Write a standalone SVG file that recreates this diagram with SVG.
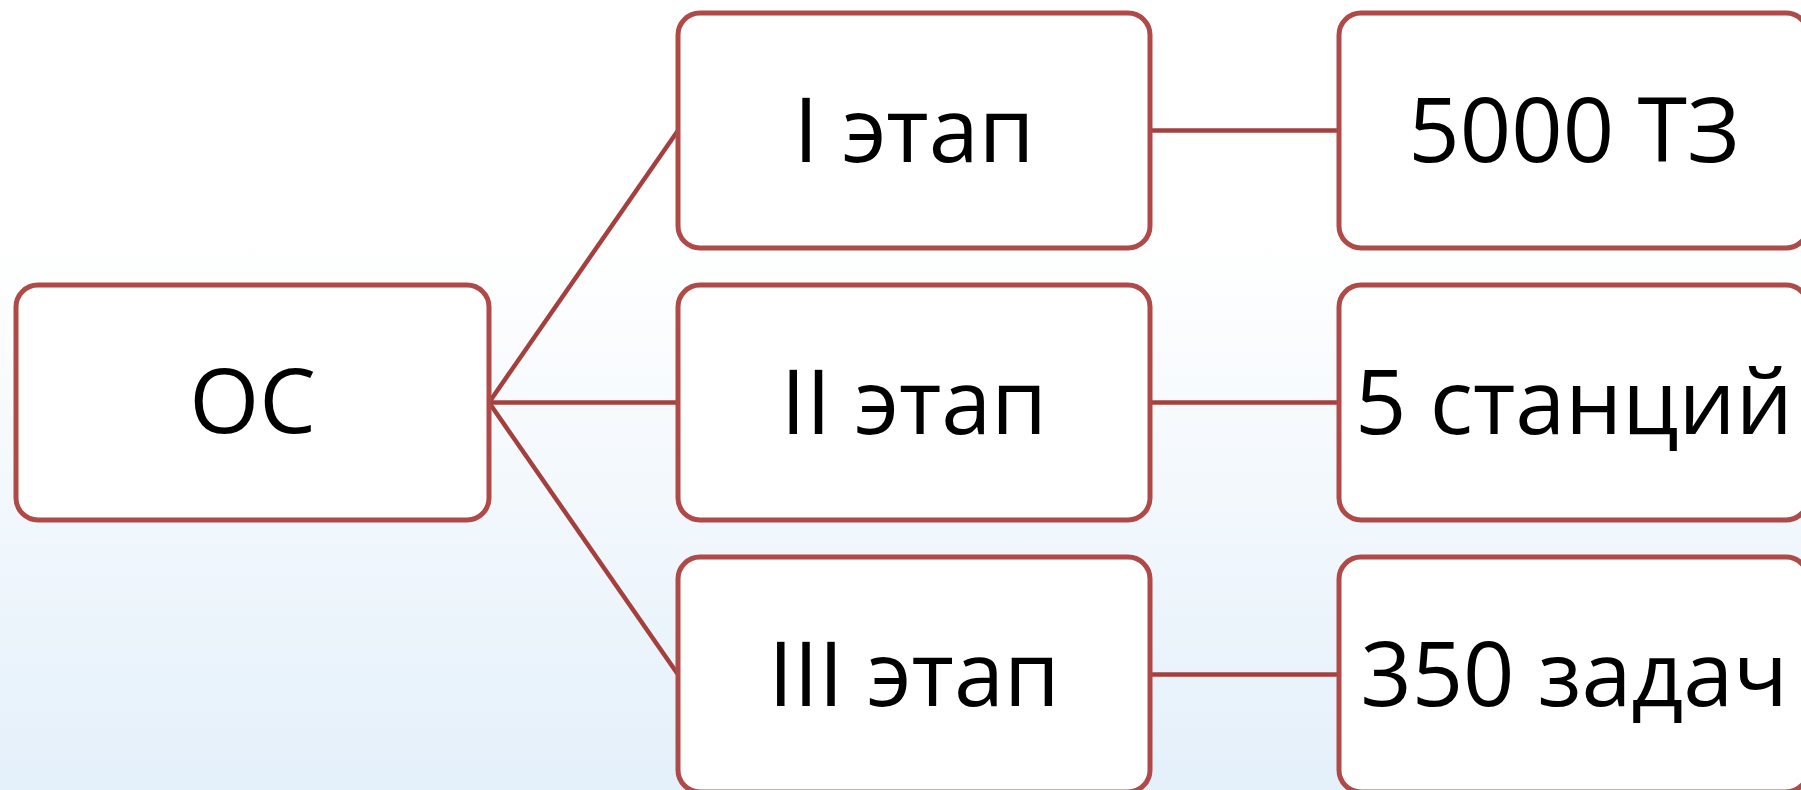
<svg xmlns="http://www.w3.org/2000/svg" width="1801" height="790" viewBox="0 0 1801 790">
<defs>
<linearGradient id="bg" x1="0" y1="0" x2="0" y2="1">
<stop offset="0" stop-color="#ffffff"/>
<stop offset="0.3" stop-color="#ffffff"/>
<stop offset="1" stop-color="#e4f0fa"/>
</linearGradient>
<style>
.box{fill:#ffffff;stroke:#b04a48;stroke-width:5}
.lbl{font-family:"Open Sans","Noto Sans",sans-serif;font-size:90px;fill:#000;text-anchor:middle}
.conn line{stroke:#a3403e;stroke-width:4.5}
</style>
</defs>
<rect x="0" y="0" width="1801" height="790" fill="url(#bg)"/>
<g class="conn" id="connectors">
<line x1="489" y1="402.5" x2="678" y2="130.5"/>
<line x1="489" y1="402.5" x2="678" y2="402.5"/>
<line x1="489" y1="402.5" x2="678" y2="674.5"/>
<line x1="1150" y1="130.5" x2="1339" y2="130.5"/>
<line x1="1150" y1="402.5" x2="1339" y2="402.5"/>
<line x1="1150" y1="674.5" x2="1339" y2="674.5"/>
</g>
<g id="node-os">
<rect class="box" x="16" y="285" width="473" height="235" rx="22"/>
<text class="lbl" x="252.5" y="433">ОС</text>
</g>
<g id="node-stage1">
<rect class="box" x="678" y="13" width="472" height="235" rx="22"/>
<text class="lbl" x="914" y="162">I этап</text>
</g>
<g id="node-stage2">
<rect class="box" x="678" y="285" width="472" height="235" rx="22"/>
<text class="lbl" x="914" y="434">II этап</text>
</g>
<g id="node-stage3">
<rect class="box" x="678" y="557" width="472" height="235" rx="22"/>
<text class="lbl" x="914" y="706">III этап</text>
</g>
<g id="node-r1">
<rect class="box" x="1339" y="13" width="469" height="235" rx="22"/>
<text class="lbl" x="1574" y="162">5000 ТЗ</text>
</g>
<g id="node-r2">
<rect class="box" x="1339" y="285" width="469" height="235" rx="22"/>
<text class="lbl" x="1574" y="434">5 станций</text>
</g>
<g id="node-r3">
<rect class="box" x="1339" y="557" width="469" height="235" rx="22"/>
<text class="lbl" x="1574" y="706">350 задач</text>
</g>
</svg>
